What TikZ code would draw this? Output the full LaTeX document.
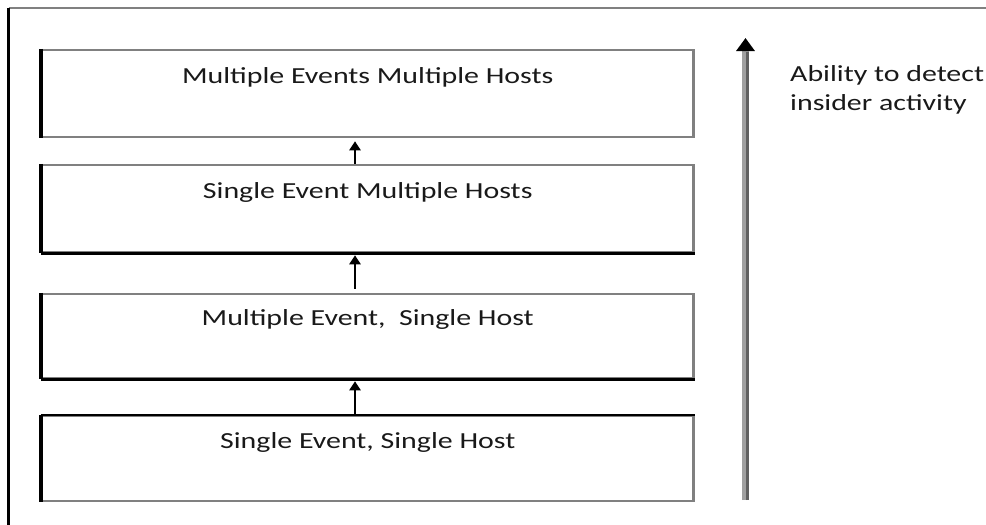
\documentclass[tikz,border=0pt]{standalone}
\usepackage{fontspec}
\setmainfont{Carlito}[FakeStretch=1.3]
\usetikzlibrary{arrows.meta}
\definecolor{edgegray}{RGB}{128,128,128}
\definecolor{inkblack}{RGB}{25,25,25}
\definecolor{shaftlight}{RGB}{160,160,160}
\definecolor{shaftdark}{RGB}{96,96,96}
\tikzset{
  levelbox/.style={draw=edgegray, line width=2.5pt, rectangle, minimum width=651.5pt,
    inner sep=0pt, font=\fontsize{23}{23}\selectfont, text=inkblack,
    text height=16pt, text depth=37pt},
  darkedge/.style={draw=black, line width=3.5pt},
  stepup/.style={draw=black, line width=2.8pt, -{Triangle[width=11pt,length=9pt]}},
  framegray/.style={draw=edgegray, line width=2pt},
  frameblack/.style={draw=black, line width=3pt},
  sidenote/.style={font=\fontsize{23}{29}\selectfont, text=inkblack, align=left, inner sep=0pt}
}
\begin{document}
\begin{tikzpicture}[x=1pt, y=-1pt]
  \useasboundingbox (0,0) rectangle (986,525);

  % page frame: top rule and left rule
  \coordinate (frameTL) at (8.7,7.7);
  \coordinate (frameTR) at (986,7.7);
  \coordinate (frameBL) at (8.7,525);
  \draw[framegray] (frameTL) -- (frameTR);
  \draw[frameblack] (frameTL) -- (frameBL);

  % the four detection levels
  \node[levelbox, minimum height=87pt] (mm) at (367.75,93.5) {Multiple Events Multiple Hosts};
  \node[levelbox, minimum height=87pt] (sm) at (367.75,208.5) {Single Event Multiple Hosts};
  \node[levelbox, minimum height=84pt] (ms) at (367.75,336) {Multiple Event,\ \ Single Host};
  \node[levelbox, minimum height=85pt] (ss) at (367.75,458.5) {Single Event, Single Host};

  % darker edges
  \foreach \b in {mm,sm,ms,ss}
    \draw[darkedge] (\b.north west) -- (\b.south west);
  \draw[darkedge, line width=2.5pt] (sm.south west) -- (sm.south east);
  \draw[darkedge, line width=2.5pt] (ms.south west) -- (ms.south east);
  \draw[darkedge, line width=2.5pt] (ss.north west) -- (ss.north east);

  % arrows between levels
  \coordinate (ax) at (355,0);
  \draw[stepup] (sm.north -| ax) -- ([yshift=-3pt]mm.south -| ax);
  \draw[stepup] ([yshift=4pt]ms.north -| ax) -- ([yshift=-2pt]sm.south -| ax);
  \draw[stepup] (ss.north -| ax) -- ([yshift=-2pt]ms.south -| ax);

  % long scale arrow
  \coordinate (scaleBot) at (745.5,500);
  \coordinate (scaleTop) at (745.5,38);
  \draw[line width=7pt, shaftlight, -{Triangle[width=18pt,length=13pt,color=black]}] (scaleBot) -- (scaleTop);
  \coordinate (darkBot) at (747.3,500);
  \coordinate (darkTop) at (747.3,52);
  \draw[line width=3.5pt, shaftdark] (darkBot) -- (darkTop);

  \node[sidenote, anchor=base west] (note) at (790,110) {Ability to detect\\insider activity};
\end{tikzpicture}
\end{document}
